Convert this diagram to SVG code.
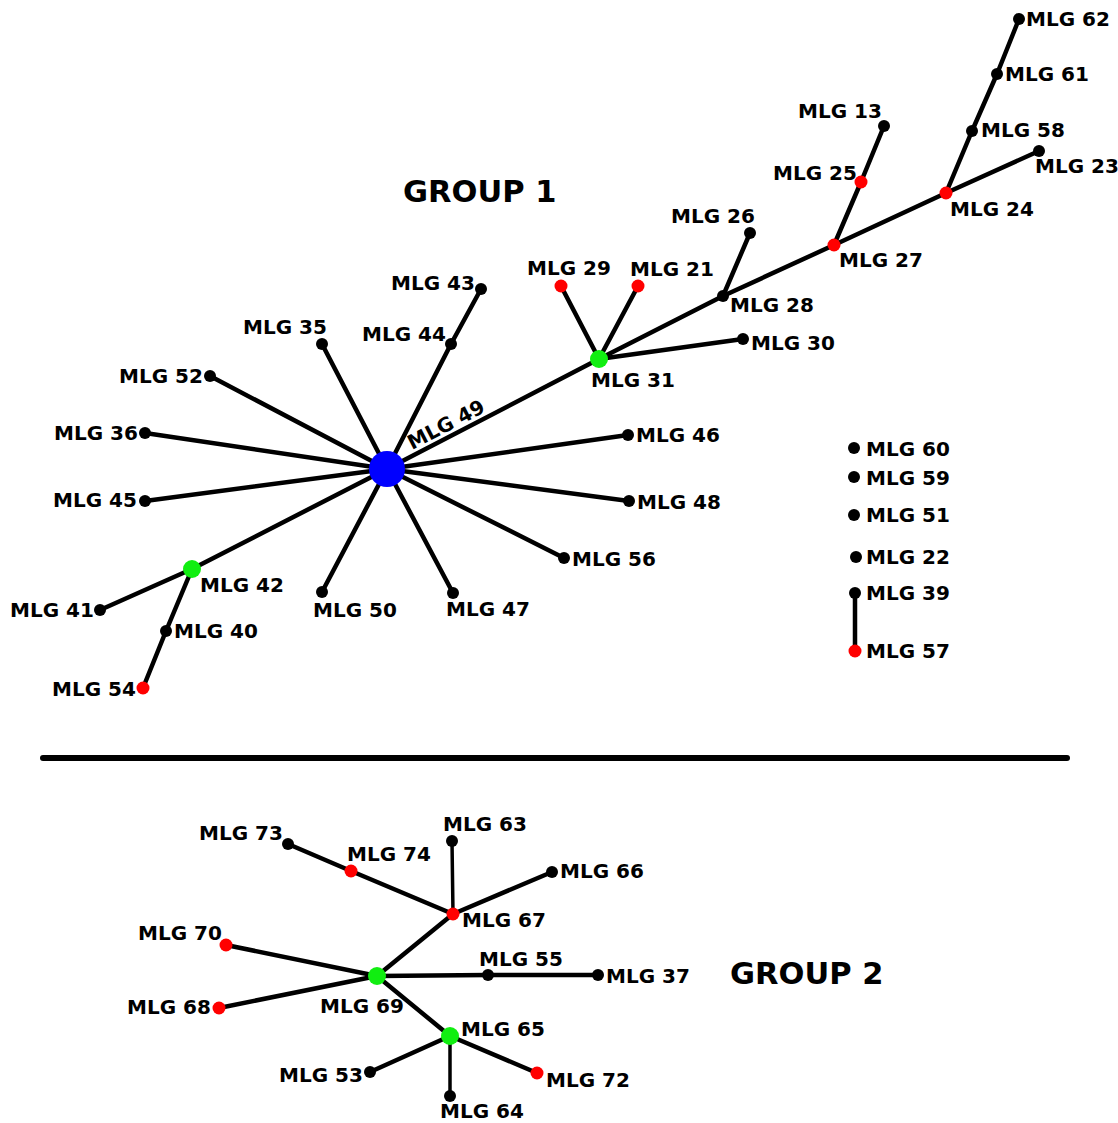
<svg xmlns="http://www.w3.org/2000/svg" width="1118" height="1123" viewBox="0 0 1118 1123">
<style>
text{font-family:"DejaVu Sans","Liberation Sans",sans-serif;font-weight:bold;fill:#000}
.l{font-size:20px}
.t{font-size:30.5px}
.e line{stroke:#000;stroke-width:4.5;stroke-linecap:round}
.e line.th{stroke-width:3.5}
.b{fill:#000}
.r{fill:#ff0000}
.g{fill:#11ee11}
.u{fill:#0000ff}
</style>
<rect width="1118" height="1123" fill="#fff"/>
<text class="t" x="403" y="202">GROUP 1</text>
<text class="t" x="730" y="984">GROUP 2</text>
<line x1="43" y1="758" x2="1067" y2="758" stroke="#000" stroke-width="6" stroke-linecap="round"/>
<g id="connectors" class="e">
<line x1="387" y1="469" x2="451" y2="344"/>
<line x1="451" y1="344" x2="481" y2="289"/>
<line x1="387" y1="469" x2="322" y2="344"/>
<line x1="387" y1="469" x2="210" y2="376"/>
<line x1="387" y1="469" x2="145" y2="433"/>
<line x1="387" y1="469" x2="145" y2="501"/>
<line x1="387" y1="469" x2="628" y2="435"/>
<line x1="387" y1="469" x2="629" y2="501"/>
<line x1="387" y1="469" x2="564" y2="558"/>
<line x1="387" y1="469" x2="453" y2="593"/>
<line x1="387" y1="469" x2="322" y2="592"/>
<line x1="387" y1="469" x2="192" y2="569"/>
<line x1="192" y1="569" x2="100" y2="610"/>
<line x1="192" y1="569" x2="166" y2="631"/>
<line x1="166" y1="631" x2="143" y2="688"/>
<line x1="387" y1="469" x2="599" y2="359"/>
<line x1="599" y1="359" x2="561" y2="286"/>
<line x1="599" y1="359" x2="638" y2="286"/>
<line x1="599" y1="359" x2="743" y2="339"/>
<line x1="599" y1="359" x2="723" y2="296"/>
<line x1="723" y1="296" x2="750" y2="233"/>
<line x1="723" y1="296" x2="834" y2="245"/>
<line x1="834" y1="245" x2="861" y2="182"/>
<line x1="861" y1="182" x2="884" y2="126"/>
<line x1="834" y1="245" x2="946" y2="193"/>
<line x1="946" y1="193" x2="1039" y2="151"/>
<line x1="946" y1="193" x2="972" y2="131"/>
<line x1="972" y1="131" x2="997" y2="74"/>
<line x1="997" y1="74" x2="1019" y2="19"/>
<line x1="855" y1="593" x2="855" y2="651"/>
<line x1="377" y1="976" x2="453" y2="914"/>
<line x1="453" y1="914" x2="351" y2="871"/>
<line x1="351" y1="871" x2="288" y2="844"/>
<line class="th" x1="453" y1="914" x2="452" y2="841"/>
<line x1="453" y1="914" x2="552" y2="872"/>
<line x1="377" y1="976" x2="226" y2="945"/>
<line x1="377" y1="976" x2="219" y2="1008"/>
<line x1="377" y1="976" x2="488" y2="975"/>
<line x1="488" y1="975" x2="598" y2="975"/>
<line x1="377" y1="976" x2="450" y2="1036"/>
<line x1="450" y1="1036" x2="370" y2="1072"/>
<line class="th" x1="450" y1="1036" x2="450" y2="1096"/>
<line x1="450" y1="1036" x2="537" y2="1073"/>
</g>
<g id="n49"><circle class="u" cx="387" cy="469" r="18"/><text class="l" x="0" y="0" transform="translate(412,450) rotate(-27.4)">MLG 49</text></g>
<g id="n43"><circle class="b" cx="481" cy="289" r="6"/><text class="l" x="391" y="290">MLG 43</text></g>
<g id="n44"><circle class="b" cx="451" cy="344" r="6"/><text class="l" x="362" y="341">MLG 44</text></g>
<g id="n35"><circle class="b" cx="322" cy="344" r="6"/><text class="l" x="243" y="334">MLG 35</text></g>
<g id="n52"><circle class="b" cx="210" cy="376" r="6"/><text class="l" x="119" y="383">MLG 52</text></g>
<g id="n36"><circle class="b" cx="145" cy="433" r="6"/><text class="l" x="54" y="440">MLG 36</text></g>
<g id="n45"><circle class="b" cx="145" cy="501" r="6"/><text class="l" x="53" y="507">MLG 45</text></g>
<g id="n46"><circle class="b" cx="628" cy="435" r="6"/><text class="l" x="636" y="442">MLG 46</text></g>
<g id="n48"><circle class="b" cx="629" cy="501" r="6"/><text class="l" x="637" y="509">MLG 48</text></g>
<g id="n56"><circle class="b" cx="564" cy="558" r="6"/><text class="l" x="572" y="566">MLG 56</text></g>
<g id="n47"><circle class="b" cx="453" cy="593" r="6"/><text class="l" x="446" y="616">MLG 47</text></g>
<g id="n50"><circle class="b" cx="322" cy="592" r="6"/><text class="l" x="313" y="617">MLG 50</text></g>
<g id="n42"><circle class="g" cx="192" cy="569" r="9"/><text class="l" x="200" y="592">MLG 42</text></g>
<g id="n41"><circle class="b" cx="100" cy="610" r="6"/><text class="l" x="10" y="617">MLG 41</text></g>
<g id="n40"><circle class="b" cx="166" cy="631" r="6"/><text class="l" x="174" y="638">MLG 40</text></g>
<g id="n54"><circle class="r" cx="143" cy="688" r="6.5"/><text class="l" x="52" y="696">MLG 54</text></g>
<g id="n31"><circle class="g" cx="599" cy="359" r="9"/><text class="l" x="591" y="387">MLG 31</text></g>
<g id="n29"><circle class="r" cx="561" cy="286" r="6.5"/><text class="l" x="527" y="275">MLG 29</text></g>
<g id="n21"><circle class="r" cx="638" cy="286" r="6.5"/><text class="l" x="630" y="276">MLG 21</text></g>
<g id="n30"><circle class="b" cx="743" cy="339" r="6"/><text class="l" x="751" y="350">MLG 30</text></g>
<g id="n28"><circle class="b" cx="723" cy="296" r="6"/><text class="l" x="730" y="312">MLG 28</text></g>
<g id="n26"><circle class="b" cx="750" cy="233" r="6"/><text class="l" x="671" y="223">MLG 26</text></g>
<g id="n27"><circle class="r" cx="834" cy="245" r="6.5"/><text class="l" x="839" y="267">MLG 27</text></g>
<g id="n25"><circle class="r" cx="861" cy="182" r="6.5"/><text class="l" x="773" y="180">MLG 25</text></g>
<g id="n13"><circle class="b" cx="884" cy="126" r="6"/><text class="l" x="798" y="118">MLG 13</text></g>
<g id="n24"><circle class="r" cx="946" cy="193" r="6.5"/><text class="l" x="950" y="216">MLG 24</text></g>
<g id="n23"><circle class="b" cx="1039" cy="151" r="6"/><text class="l" x="1035" y="173">MLG 23</text></g>
<g id="n58"><circle class="b" cx="972" cy="131" r="6"/><text class="l" x="981" y="137">MLG 58</text></g>
<g id="n61"><circle class="b" cx="997" cy="74" r="6"/><text class="l" x="1005" y="81">MLG 61</text></g>
<g id="n62"><circle class="b" cx="1019" cy="19" r="6"/><text class="l" x="1026" y="26">MLG 62</text></g>
<g id="n60"><circle class="b" cx="854" cy="448" r="6"/><text class="l" x="866" y="456">MLG 60</text></g>
<g id="n59"><circle class="b" cx="854" cy="477" r="6"/><text class="l" x="866" y="485">MLG 59</text></g>
<g id="n51"><circle class="b" cx="854" cy="515" r="6"/><text class="l" x="866" y="522">MLG 51</text></g>
<g id="n22"><circle class="b" cx="856" cy="557" r="6"/><text class="l" x="866" y="564">MLG 22</text></g>
<g id="n39"><circle class="b" cx="855" cy="593" r="6"/><text class="l" x="866" y="600">MLG 39</text></g>
<g id="n57"><circle class="r" cx="855" cy="651" r="6.5"/><text class="l" x="866" y="658">MLG 57</text></g>
<g id="n69"><circle class="g" cx="377" cy="976" r="9"/><text class="l" x="320" y="1013">MLG 69</text></g>
<g id="n67"><circle class="r" cx="453" cy="914" r="6.5"/><text class="l" x="462" y="927">MLG 67</text></g>
<g id="n74"><circle class="r" cx="351" cy="871" r="6.5"/><text class="l" x="347" y="861">MLG 74</text></g>
<g id="n73"><circle class="b" cx="288" cy="844" r="6"/><text class="l" x="199" y="840">MLG 73</text></g>
<g id="n63"><circle class="b" cx="452" cy="841" r="6"/><text class="l" x="443" y="831">MLG 63</text></g>
<g id="n66"><circle class="b" cx="552" cy="872" r="6"/><text class="l" x="560" y="878">MLG 66</text></g>
<g id="n70"><circle class="r" cx="226" cy="945" r="6.5"/><text class="l" x="138" y="940">MLG 70</text></g>
<g id="n68"><circle class="r" cx="219" cy="1008" r="6.5"/><text class="l" x="127" y="1014">MLG 68</text></g>
<g id="n55"><circle class="b" cx="488" cy="975" r="6"/><text class="l" x="479" y="966">MLG 55</text></g>
<g id="n37"><circle class="b" cx="598" cy="975" r="6"/><text class="l" x="606" y="983">MLG 37</text></g>
<g id="n65"><circle class="g" cx="450" cy="1036" r="9"/><text class="l" x="461" y="1036">MLG 65</text></g>
<g id="n53"><circle class="b" cx="370" cy="1072" r="6"/><text class="l" x="279" y="1082">MLG 53</text></g>
<g id="n64"><circle class="b" cx="450" cy="1096" r="6"/><text class="l" x="440" y="1118">MLG 64</text></g>
<g id="n72"><circle class="r" cx="537" cy="1073" r="6.5"/><text class="l" x="546" y="1087">MLG 72</text></g>
</svg>
